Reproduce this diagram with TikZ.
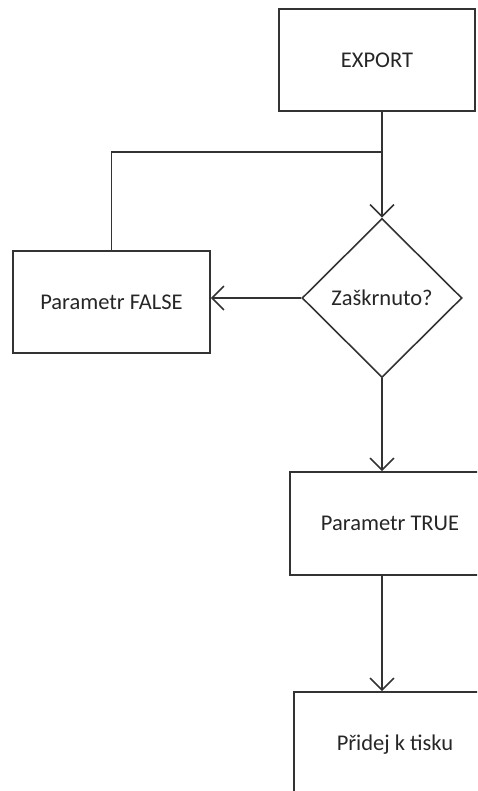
\documentclass[tikz,border=0pt]{standalone}
\usepackage{fontspec}
\setmainfont{Carlito}
\usetikzlibrary{shapes.geometric,arrows.meta}

\begin{document}
\begin{tikzpicture}[x=0.02cm, y=-0.02cm,
  line width=0.9pt, draw=black!80, text=black!85,
  font=\fontsize{12.8pt}{15pt}\selectfont,
  box/.style={draw, rectangle, minimum width=#1, minimum height=2.04cm},
  box/.default=3.94cm,
  test/.style={draw, diamond, minimum width=3.2cm, minimum height=3.18cm, inner sep=0pt},
  arr/.style={-{Straight Barb[length=0.24cm, width=0.48cm]}}]
  \useasboundingbox (0,0) rectangle (477,791);
  \clip (0,0) rectangle (477,791);
  \node[box=3.92cm] (export) at (377,60) {EXPORT};
  \node[test] (check) at (382,298) {Zaškrnuto?};
  \node[box] (false) at (111.5,302) {Parametr FALSE};
  \node[box=4cm, minimum height=2.06cm] (true) at (390,523.5) {Parametr TRUE};
  \node[box=4.04cm, minimum height=2.12cm] (print) at (395,745) {Přidej k tisku};
  \coordinate (join) at (382,152);
%  \path[-stealth]
  \draw[arr] (check.north |- export.south) -- (check.north);
  \draw (false.north) |- (join);
  \draw[arr] (check.west) -- (check.west -| false.east);
  \draw[arr] (check.south) -- (check.south |- true.north);
  \draw[arr] (check.south |- true.south) -- (check.south |- print.north);
\end{tikzpicture}
\end{document}
